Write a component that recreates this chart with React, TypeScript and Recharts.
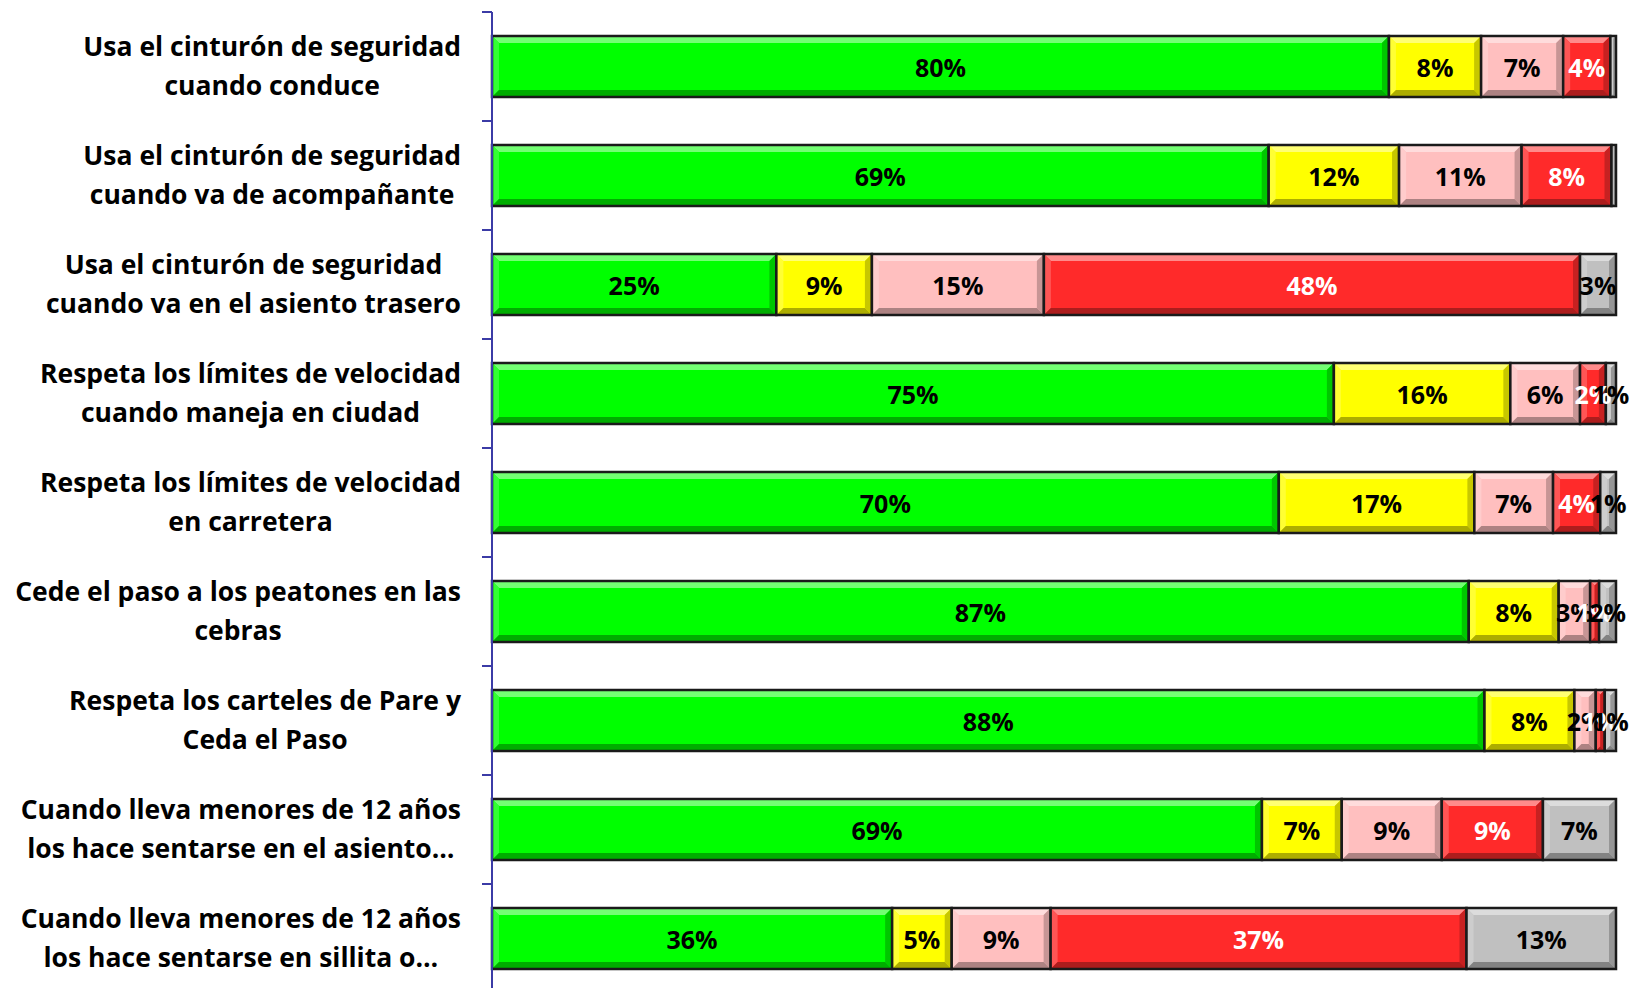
import React from 'react';
import { BarChart, Bar, XAxis, YAxis, LabelList } from 'recharts';

const categories = [
  'Usa el cinturón de seguridad\ncuando conduce',
  'Usa el cinturón de seguridad\ncuando va de acompañante',
  'Usa el cinturón de seguridad\ncuando va en el asiento trasero',
  'Respeta los límites de velocidad\ncuando maneja en ciudad',
  'Respeta los límites de velocidad\nen carretera',
  'Cede el paso a los peatones en las\ncebras',
  'Respeta los carteles de Pare y\nCeda el Paso',
  'Cuando lleva menores de 12 años\nlos hace sentarse en el asiento…',
  'Cuando lleva menores de 12 años\nlos hace sentarse en sillita o…',
];
const siempre = [79.8, 69.1, 25.3, 74.9, 70.0, 86.9, 88.3, 68.5, 35.6];
const casiSiempre = [8.2, 11.6, 8.5, 15.7, 17.4, 8.0, 8.0, 7.1, 5.3];
const aVeces = [7.3, 10.9, 15.3, 6.2, 7.0, 2.8, 1.9, 8.9, 8.8];
const nunca = [4.2, 8.0, 47.7, 2.3, 4.2, 0.8, 0.8, 9.0, 37.0];
const noSabe = [0.5, 0.4, 3.2, 0.9, 1.4, 1.5, 1.0, 6.5, 13.3];

const seriesKeys = ['siempre', 'casiSiempre', 'aVeces', 'nunca', 'noSabe'];
const seriesColors = ['#00FF00', '#FFFF00', '#FFBFBF', '#FF2A2A', '#C0C0C0'];
const labelColors = ['#000000', '#000000', '#000000', '#FFFFFF', '#000000'];

const data = categories.map((c, i) => ({
  name: c,
  siempre: siempre[i],
  casiSiempre: casiSiempre[i],
  aVeces: aVeces[i],
  nunca: nunca[i],
  noSabe: noSabe[i],
}));

const W = 1635;
const H = 1000;
const M = { top: 12, right: 19, bottom: 7, left: 0 };
const BAND = (H - M.top - M.bottom) / categories.length;
const FONT = '"Open Sans", Lato, sans-serif';
const CAT_SIZE = 26.5;

function mix(hex: string, target: number, t: number) {
  const n = parseInt(hex.slice(1), 16);
  const r = (n >> 16) & 255, g = (n >> 8) & 255, b = n & 255;
  const f = (v: number) => Math.round(v + (target - v) * t);
  return `rgb(${f(r)},${f(g)},${f(b)})`;
}

const Bevel = (props: any) => {
  const { x, y, width, height, fill } = props;
  if (!width || width <= 0) return null;
  const w = width, h = height;
  const b = Math.min(7, w / 2, h / 2);
  const top = mix(fill, 255, 0.45);
  const left = mix(fill, 255, 0.2);
  const right = mix(fill, 0, 0.22);
  const bottom = mix(fill, 0, 0.32);
  return (
    <g>
      <rect x={x} y={y} width={w} height={h} fill={fill} />
      <polygon points={`${x},${y} ${x + w},${y} ${x + w - b},${y + b} ${x + b},${y + b}`} fill={top} />
      <polygon points={`${x},${y} ${x + b},${y + b} ${x + b},${y + h - b} ${x},${y + h}`} fill={left} />
      <polygon points={`${x + w},${y} ${x + w},${y + h} ${x + w - b},${y + h - b} ${x + w - b},${y + b}`} fill={right} />
      <polygon points={`${x},${y + h} ${x + b},${y + h - b} ${x + w - b},${y + h - b} ${x + w},${y + h}`} fill={bottom} />
      <rect x={x} y={y} width={w} height={h} fill="none" stroke="#1a1a1a" strokeWidth={2.5} />
    </g>
  );
};

let measureCtx: CanvasRenderingContext2D | null = null;
function measure(text: string) {
  if (!measureCtx) {
    const c = document.createElement('canvas');
    measureCtx = c.getContext('2d');
  }
  if (!measureCtx) return text.length * CAT_SIZE * 0.5;
  measureCtx.font = `bold ${CAT_SIZE}px ${FONT}`;
  return measureCtx.measureText(text).width;
}

const CatTick = (props: any) => {
  const { x, y, payload } = props;
  const lines = String(payload.value).split('\n');
  const maxW = Math.max(...lines.map(measure));
  const right = x - 31;
  const cx = right - maxW / 2;
  const lh = 39;
  const startY = y - 1 - ((lines.length - 1) * lh) / 2;
  return (
    <g>
      <line x1={x} x2={x - 10} y1={y - BAND / 2} y2={y - BAND / 2} stroke="#3b3ba6" strokeWidth={2} />
      {lines.map((l, i) => (
        <text key={i} x={cx} y={startY + i * lh} textAnchor="middle" dominantBaseline="central"
          fontFamily={FONT} fontWeight="bold" fontSize={CAT_SIZE} fill="#000">
          {l}
        </text>
      ))}
    </g>
  );
};

const makeLabel = (color: string) => (props: any) => {
  const { x, y, width, height, value } = props;
  if (value == null || value < 0.6) return null;
  return (
    <text x={x + width / 2} y={y + height / 2} textAnchor="middle" dominantBaseline="central"
      fontFamily={FONT} fontWeight="bold" fontSize={25} fill={color}>
      {`${Math.round(value)}%`}
    </text>
  );
};

export default function App() {
  return (
    <div style={{ position: 'absolute', left: 0, top: 0, width: W, height: 988, overflow: 'hidden', background: '#fff' }}>
      <BarChart width={W} height={H} data={data} layout="vertical" margin={M} barSize={61}>
        <XAxis type="number" domain={[0, 100]} hide />
        <YAxis type="category" dataKey="name" width={492} axisLine={{ stroke: '#3b3ba6', strokeWidth: 2 }}
          tickLine={false} tickSize={0} tickMargin={0} tick={<CatTick />} interval={0} />
        {seriesKeys.map((k, i) => (
          <Bar key={k} dataKey={k} stackId="a" fill={seriesColors[i]} isAnimationActive={false} shape={<Bevel />}>
            <LabelList dataKey={k} content={makeLabel(labelColors[i])} />
          </Bar>
        ))}
      </BarChart>
    </div>
  );
}
